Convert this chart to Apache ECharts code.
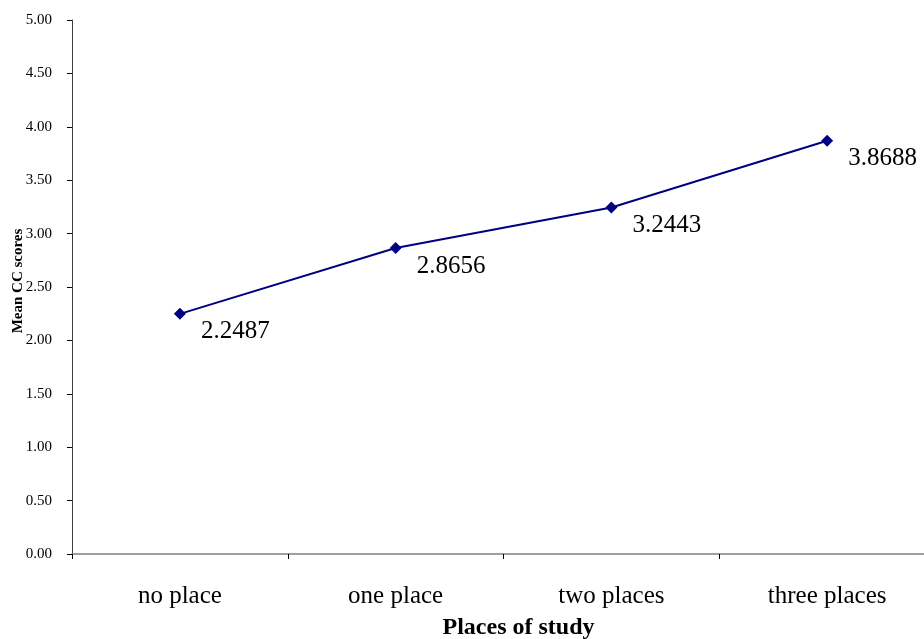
<!DOCTYPE html>
<html>
<head>
<meta charset="utf-8">
<script src="https://cdn.jsdelivr.net/npm/echarts@6/dist/echarts.min.js"></script>
<style>html,body{margin:0;padding:0;background:#fff;overflow:hidden;}#c{width:935px;height:639px;}</style>
</head>
<body>
<div id="c"></div>
<script>
const categories = ['no place', 'one place', 'two places', 'three places'];
const meanScores = [2.2487, 2.8656, 3.2443, 3.8688];
const font = '"Liberation Serif", "Times New Roman", serif';
const chart = echarts.init(document.getElementById('c'));
chart.setOption({
  animation: false,
  grid: { left: 72, right: 0, top: 20, bottom: 85, containLabel: false, outerBoundsMode: 'none' },
  xAxis: {
    type: 'category',
    data: categories,
    boundaryGap: true,
    name: 'Places of study',
    nameLocation: 'middle',
    nameGap: 62,
    nameMoveOverlap: false,
    nameTextStyle: { fontFamily: font, fontSize: 24, fontWeight: 'bold', color: '#000', padding: [0, 0, 0, 30] },
    axisLine: { lineStyle: { color: '#808080', width: 1.5 } },
    axisTick: { show: true, length: 5, lineStyle: { color: '#000' } },
    axisLabel: { fontFamily: font, fontSize: 25, color: '#000', margin: 30 },
    splitLine: { show: false }
  },
  yAxis: {
    type: 'value',
    min: 0, max: 5, interval: 0.5,
    name: 'Mean CC scores',
    nameLocation: 'middle',
    nameGap: 46,
    nameMoveOverlap: false,
    nameTextStyle: { fontFamily: font, fontSize: 15, fontWeight: 'bold', color: '#000', padding: [0, 0, 0, 12] },
    axisLine: { show: true, lineStyle: { color: '#404040', width: 1 } },
    axisTick: { show: true, length: 5, lineStyle: { color: '#000' } },
    axisLabel: { fontFamily: font, fontSize: 15, color: '#000', margin: 20, formatter: v => v.toFixed(2) },
    splitLine: { show: false }
  },
  series: [{
    type: 'line',
    data: meanScores,
    symbol: 'diamond',
    symbolSize: 12,
    lineStyle: { color: '#000080', width: 2 },
    itemStyle: { color: '#000080' },
    label: {
      show: true,
      position: 'right',
      offset: [10, 18],
      fontFamily: font, fontSize: 25, color: '#000',
      formatter: p => p.value.toFixed(4)
    }
  }]
});
</script>
</body>
</html>
